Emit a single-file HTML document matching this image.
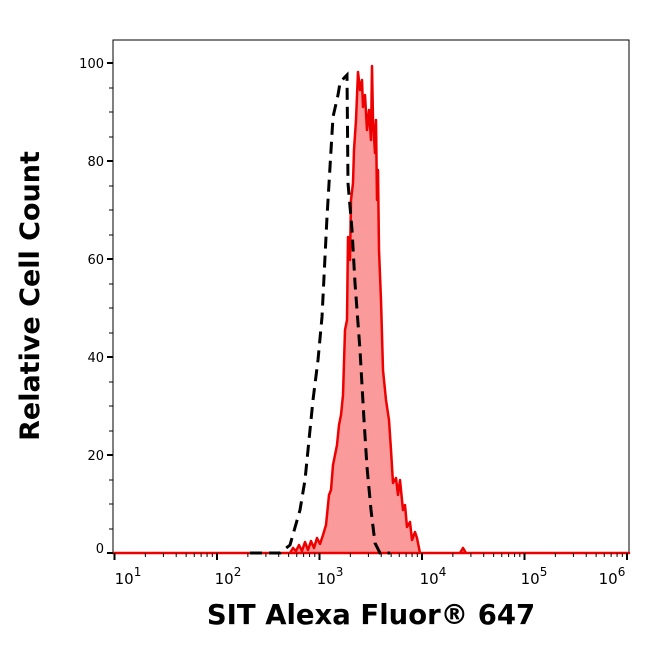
<!DOCTYPE html>
<html><head><style>body{margin:0;background:#fff}</style></head><body>
<svg width="650" height="645" xmlns="http://www.w3.org/2000/svg" font-family="DejaVu Sans, Verdana, sans-serif">
<rect x="113" y="40" width="516" height="513" fill="none" stroke="#000" stroke-width="1"/>
<path d="M113,553 L290,553 L293,548 L296,551 L299,545 L302,551 L305,542 L308,550 L311,541 L314,548 L317,538 L320,544 L323,535 L326,525 L329,495 L331,490 L333,465 L335,455 L337,445 L339,425 L341,415 L343,395 L345,330 L347,320 L348,237 L350,260 L351,200 L353,183 L354,150 L356,120 L358,72 L360,90 L362,80 L363,107 L365,95 L367,130 L369,110 L371,140 L372,66 L373,120 L375,153 L376,120 L377,200 L378,170 L379,250 L381,300 L383,370 L386,400 L389,420 L391,450 L393,483 L396,478 L398,495 L400,480 L403,510 L405,505 L407,527 L410,522 L412,540 L415,532 L417,538 L420,553 L460,553 L463,548 L466,553 L629,553 Z" fill="#fa9a9a" stroke="#ee0000" stroke-width="2.5" stroke-linejoin="round"/>
<path d="M250,553 L280,553 L290,545 L300,510 L305,480 L313,400 L318,360 L322,317 L327,217 L333,117 L338,95 L340,83 L344,78 L347,75 L348,183 L352,230 L355,283 L360,350 L364,420 L367,467 L371,510 L375,543 L380,553 L390,553" fill="none" stroke="#000" stroke-width="3" stroke-dasharray="12,7"/>
<g stroke="#000" stroke-width="2">
<line x1="107" y1="63" x2="113" y2="63"/><line x1="107" y1="161" x2="113" y2="161"/><line x1="107" y1="259" x2="113" y2="259"/><line x1="107" y1="357" x2="113" y2="357"/><line x1="107" y1="455" x2="113" y2="455"/><line x1="107" y1="553" x2="113" y2="553"/>
<line x1="114.5" y1="553" x2="114.5" y2="560"/><line x1="217" y1="553" x2="217" y2="560"/><line x1="319.5" y1="553" x2="319.5" y2="560"/><line x1="422" y1="553" x2="422" y2="560"/><line x1="524.5" y1="553" x2="524.5" y2="560"/><line x1="627" y1="553" x2="627" y2="560"/>
</g>
<g stroke="#000" stroke-width="1">
<line x1="109" y1="88" x2="113" y2="88"/><line x1="109" y1="112" x2="113" y2="112"/><line x1="109" y1="137" x2="113" y2="137"/>
<line x1="109" y1="186" x2="113" y2="186"/><line x1="109" y1="210" x2="113" y2="210"/><line x1="109" y1="235" x2="113" y2="235"/>
<line x1="109" y1="284" x2="113" y2="284"/><line x1="109" y1="308" x2="113" y2="308"/><line x1="109" y1="333" x2="113" y2="333"/>
<line x1="109" y1="382" x2="113" y2="382"/><line x1="109" y1="406" x2="113" y2="406"/><line x1="109" y1="431" x2="113" y2="431"/>
<line x1="109" y1="480" x2="113" y2="480"/><line x1="109" y1="504" x2="113" y2="504"/><line x1="109" y1="529" x2="113" y2="529"/>
</g>
<g stroke="#000" stroke-width="1" id="minor"></g>
<g font-size="13" fill="#000" text-anchor="end">
<text x="104" y="68">100</text><text x="104" y="166">80</text><text x="104" y="264">60</text><text x="104" y="362">40</text><text x="104" y="460">20</text><text x="104" y="553">0</text>
</g>
<g font-size="15" fill="#000" text-anchor="middle">
<text x="128" y="584">10<tspan font-size="12" dy="-8">1</tspan></text>
<text x="228" y="584">10<tspan font-size="12" dy="-8">2</tspan></text>
<text x="330" y="584">10<tspan font-size="12" dy="-8">3</tspan></text>
<text x="433" y="584">10<tspan font-size="12" dy="-8">4</tspan></text>
<text x="534" y="584">10<tspan font-size="12" dy="-8">5</tspan></text>
<text x="612" y="584">10<tspan font-size="12" dy="-8">6</tspan></text>
</g>
<text x="371" y="624" font-size="27.5" font-weight="bold" text-anchor="middle">SIT Alexa Fluor® 647</text>
<text transform="translate(39,296) rotate(-90)" font-size="27" font-weight="bold" text-anchor="middle">Relative Cell Count</text>
</svg>
<script>
var g=document.getElementById('minor');var s='';
for(var d=0;d<5;d++){var b=114.5+d*102.5;for(var k=2;k<10;k++){var x=b+Math.log10(k)*102.5;s+='<line x1="'+x+'" y1="553" x2="'+x+'" y2="557"/>';}}
g.innerHTML=s;
</script>
</body></html>
